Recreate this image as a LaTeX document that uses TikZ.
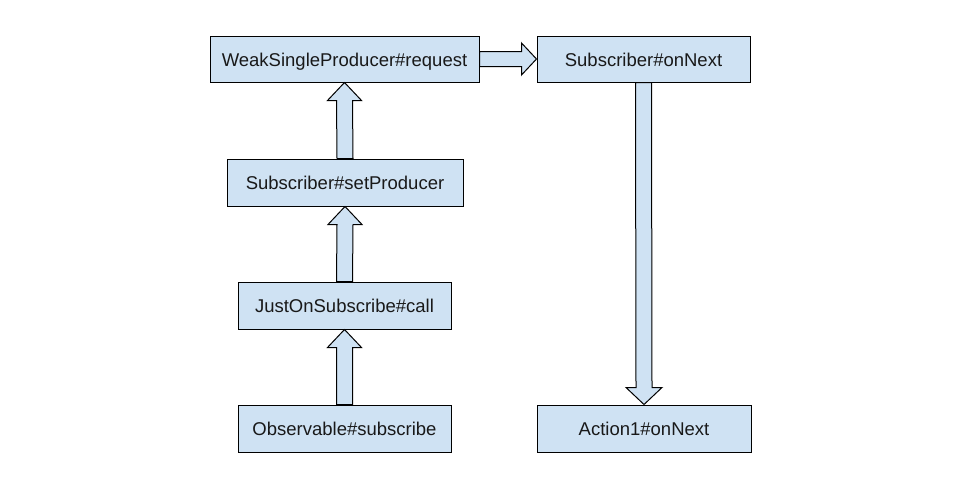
\documentclass[tikz,border=0pt]{standalone}
\usepackage{fontspec}
\setmainfont{Liberation Sans}
\usetikzlibrary{calc}
\definecolor{boxfill}{HTML}{CFE2F3}
\tikzset{
  box/.style={draw=black, fill=boxfill, line width=1pt, inner sep=0pt, align=center,
    text height=16.2pt, text depth=2pt,
    font=\fontsize{18.5}{22}\selectfont, text=black!90},
  blockarrow/.style={draw=black, fill=boxfill, line width=1pt, line join=miter}
}
\begin{document}
\begin{tikzpicture}[x=1pt,y=1pt]
\useasboundingbox (0,0) rectangle (960,-498);
\node[box, minimum width=269pt, minimum height=46pt] (b1) at (344.5,-59) {WeakSingleProducer\#request};
\node[box, minimum width=213pt, minimum height=46pt] (b2) at (643.5,-59) {Subscriber\#onNext};
\node[box, minimum width=236pt, minimum height=47pt] (b3) at (345,-182.5) {Subscriber\#setProducer};
\node[box, minimum width=213pt, minimum height=47pt] (b4) at (344.5,-305.5) {JustOnSubscribe\#call};
\node[box, minimum width=213pt, minimum height=47pt] (b5) at (344.5,-428.5) {Observable\#subscribe};
\node[box, minimum width=214pt, minimum height=47pt] (b6) at (644,-428.5) {Action1\#onNext};
% up arrows
\foreach \a/\b in {b5/b4, b4/b3, b3/b1}{
  \draw[blockarrow] ($(\a.north)+(-8,0)$) -- ($(\b.south)+(-8,-18)$) -- ($(\b.south)+(-17,-18)$)
    -- (\b.south) -- ($(\b.south)+(17,-18)$) -- ($(\b.south)+(8,-18)$) -- ($(\a.north)+(8,0)$) -- cycle;
}
% right arrow
\draw[blockarrow] ($(b1.east)+(0,7.5)$) -- ($(b2.west)+(-15,7.5)$) -- ($(b2.west)+(-15,16)$)
  -- (b2.west) -- ($(b2.west)+(-15,-16)$) -- ($(b2.west)+(-15,-7.5)$) -- ($(b1.east)+(0,-7.5)$) -- cycle;
% down arrow
\draw[blockarrow] ($(b2.south)+(-8,0)$) -- ($(b6.north)+(-8,17)$) -- ($(b6.north)+(-18,17)$)
  -- (b6.north) -- ($(b6.north)+(18,17)$) -- ($(b6.north)+(8,17)$) -- ($(b2.south)+(8,0)$) -- cycle;
\end{tikzpicture}
\end{document}
